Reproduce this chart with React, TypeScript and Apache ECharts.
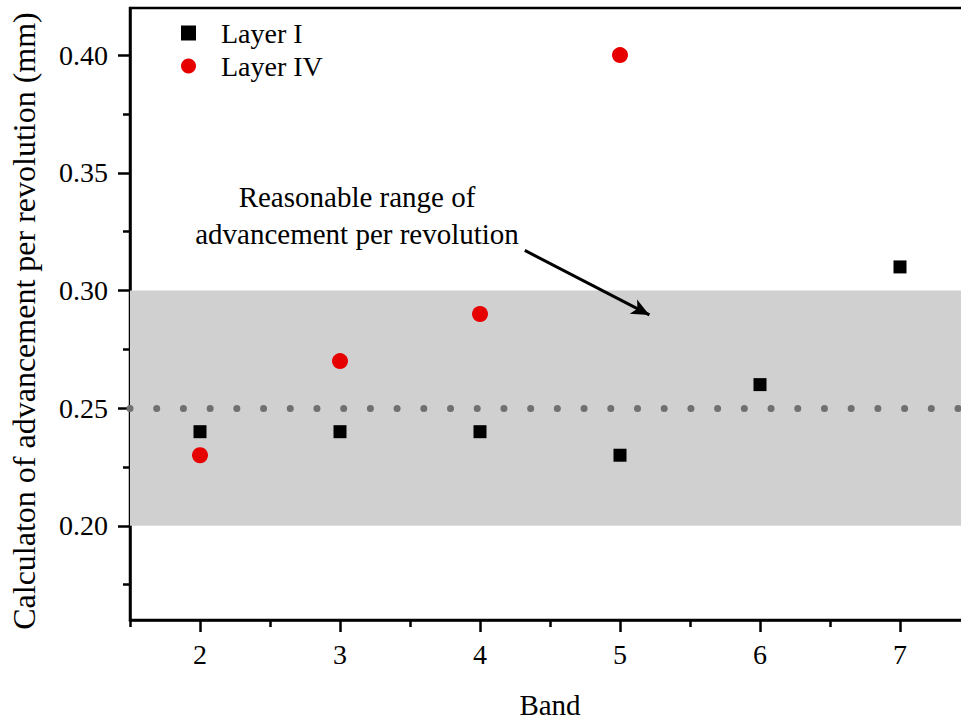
import React, { useEffect, useRef } from "react";
import * as echarts from "echarts";

const bandsLayerI = [2, 3, 4, 5, 6, 7];
const valuesLayerI = [0.24, 0.24, 0.24, 0.23, 0.26, 0.31];
const bandsLayerIV = [2, 3, 4, 5];
const valuesLayerIV = [0.23, 0.27, 0.29, 0.4];

const yMajorTicks = [0.2, 0.25, 0.3, 0.35, 0.4];
const yMinorTicks = [0.175, 0.225, 0.275, 0.325, 0.375];
const xMajorTicks = [2, 3, 4, 5, 6, 7];
const xMinorTicks = [1.5, 2.5, 3.5, 4.5, 5.5, 6.5, 7.5];

const rangeLow = 0.2;
const rangeHigh = 0.3;
const referenceLevel = 0.25;
const arrowStart = [4.32, 0.317];
const arrowEnd = [5.21, 0.2896];
const annotation = "Reasonable range of\nadvancement per revolution";

const FONT = "Times New Roman, Liberation Serif, DejaVu Serif, serif";

export default function App() {
  const ref = useRef<HTMLDivElement>(null);
  useEffect(() => {
    if (!ref.current) return;
    const chart = echarts.init(ref.current, null, { renderer: "svg" });
    const axisLine = { show: true, lineStyle: { color: "#000", width: 2.5 } };
    chart.setOption({
      animation: false,
      backgroundColor: "#fff",
      textStyle: { fontFamily: FONT, color: "#000" },
      grid: {
        left: 130,
        top: 8,
        right: -9,
        bottom: 105,
        show: true,
        borderColor: "#000",
        borderWidth: 2.5,
        outerBoundsMode: "none",
      },
      legend: {
        orient: "vertical",
        left: 176,
        top: 14,
        itemWidth: 15,
        itemHeight: 15,
        itemGap: 5,
        selectedMode: false,
        itemStyle: { opacity: 1 },
        textStyle: { fontFamily: FONT, fontSize: 28, color: "#000", padding: [0, 0, 0, 20] },
        data: [
          { name: "Layer I", icon: "rect" },
          { name: "Layer IV", icon: "circle" },
        ],
      },
      xAxis: [
        {
          type: "value",
          position: "bottom",
          min: 1.5,
          max: 7.5,
          name: "Band",
          nameLocation: "middle",
          nameGap: 70,
          nameTextStyle: { fontFamily: FONT, fontSize: 29, color: "#000" },
          axisLine,
          axisTick: { show: true, customValues: xMajorTicks, length: 12, lineStyle: { color: "#000", width: 2.5 } },
          axisLabel: { show: true, customValues: xMajorTicks, margin: 20, fontFamily: FONT, fontSize: 28, color: "#000" },
          splitLine: { show: false },
        },
        {
          type: "value",
          position: "bottom",
          min: 1.5,
          max: 7.5,
          axisLine: { show: false },
          axisTick: { show: true, customValues: xMinorTicks, length: 7, lineStyle: { color: "#000", width: 2.5 } },
          axisLabel: { show: false },
          splitLine: { show: false },
        },
      ],
      yAxis: [
        {
          type: "value",
          position: "left",
          min: 0.16,
          max: 0.42,
          name: "Calculaton of advancement per revolution (mm)",
          nameLocation: "middle",
          nameGap: 90,
          nameTextStyle: { fontFamily: FONT, fontSize: 32, color: "#000", padding: [0, 14, 0, 0] },
          axisLine,
          axisTick: { show: true, customValues: yMajorTicks, length: 12, lineStyle: { color: "#000", width: 2.5 } },
          axisLabel: {
            show: true,
            customValues: yMajorTicks,
            margin: 22,
            fontFamily: FONT,
            fontSize: 28,
            color: "#000",
            formatter: (v: number) => v.toFixed(2),
          },
          splitLine: { show: false },
        },
        {
          type: "value",
          position: "left",
          min: 0.16,
          max: 0.42,
          axisLine: { show: false },
          axisTick: { show: true, customValues: yMinorTicks, length: 7, lineStyle: { color: "#000", width: 2.5 } },
          axisLabel: { show: false },
          splitLine: { show: false },
        },
      ],
      series: [
        {
          name: "Layer I",
          type: "scatter",
          symbol: "rect",
          symbolSize: 13,
          itemStyle: { color: "#000", opacity: 1 },
          data: bandsLayerI.map((b, i) => [b, valuesLayerI[i]]),
          z: 5,
          markArea: {
            silent: true,
            itemStyle: { color: "#d0d0d0", opacity: 1 },
            data: [[{ yAxis: rangeLow }, { yAxis: rangeHigh }]],
          },
          markLine: {
            silent: true,
            symbol: ["none", "none"],
            label: { show: false },
            lineStyle: { color: "#707070", width: 7, type: [0.01, 26.7], cap: "round", opacity: 1 },
            data: [{ yAxis: referenceLevel }],
          },
        },
        {
          name: "Layer IV",
          type: "scatter",
          symbol: "circle",
          symbolSize: 16,
          itemStyle: { color: "#e60000", opacity: 1 },
          data: bandsLayerIV.map((b, i) => [b, valuesLayerIV[i]]),
          z: 5,
          markLine: {
            silent: true,
            symbol: ["none", "arrow"],
            symbolSize: [12, 18],
            label: { show: false },
            lineStyle: { color: "#000", width: 3, type: "solid", opacity: 1 },
            data: [[{ coord: arrowStart }, { coord: arrowEnd }]],
          },
        },
      ],
      graphic: [
        {
          type: "text",
          x: 357,
          y: 178,
          style: {
            text: annotation,
            x: 0,
            y: 0,
            align: "center",
            fontFamily: FONT,
            fontSize: 29,
            lineHeight: 37,
            fill: "#000",
          },
        },
      ],
    });
    return () => chart.dispose();
  }, []);
  return <div ref={ref} style={{ position: "fixed", left: 0, top: 0, width: 961, height: 725 }} />;
}
